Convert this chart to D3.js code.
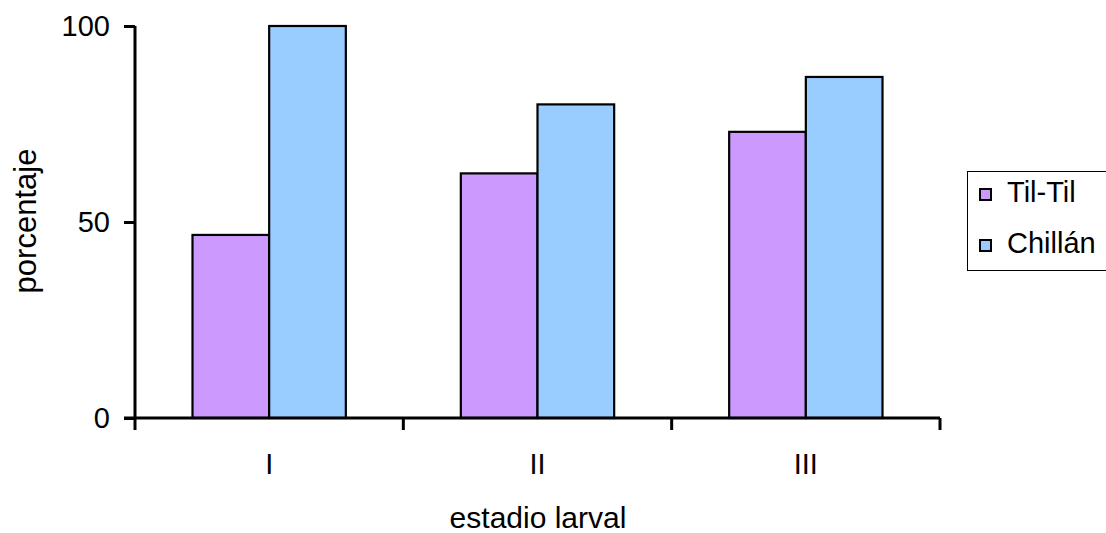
<!DOCTYPE html>
<html>
<head>
<meta charset="utf-8">
<script src="https://cdn.jsdelivr.net/npm/d3@7"></script>
<style>
  html, body { margin: 0; padding: 0; background: #fff; }
  svg { display: block; font-family: Arial, "Liberation Sans", sans-serif; }
</style>
</head>
<body>
<svg id="chart" width="1106" height="533"></svg>
<script>
// Larval stages and percentage per population
const stages = ["I", "II", "III"];
const seriesNames = ["Til-Til", "Chillán"];
const tilTil = [46.7, 62.4, 73.0];
const chillan = [100, 80.0, 87.0];
const yTicks = [0, 50, 100];
const colors = ["#CC99FF", "#99CCFF"];

const svg = d3.select("#chart");
const plotLeft = 135, plotRight = 940, plotTop = 26, plotBottom = 418;

const x = d3.scaleBand().domain(stages).range([plotLeft, plotRight]).paddingInner(0).paddingOuter(0);
// two bars per group with a 150% gap between groups
const barW = x.bandwidth() / 3.5;
const xs = d3.scaleBand().domain(seriesNames).range([barW * 0.75, barW * 2.75]);
const y = d3.scaleLinear().domain([0, 100]).range([plotBottom, plotTop]);

const rows = stages.map((s, i) => ({ stage: s, values: [tilTil[i], chillan[i]] }));

// bars
const g = svg.append("g");
g.selectAll("g.grp").data(rows).join("g")
  .attr("class", "grp")
  .attr("transform", d => `translate(${x(d.stage)},0)`)
  .selectAll("rect").data(d => d.values.map((v, k) => ({ name: seriesNames[k], v, k })))
  .join("rect")
  .attr("x", d => xs(d.name))
  .attr("width", xs.bandwidth())
  .attr("y", d => y(d.v))
  .attr("height", d => y(0) - y(d.v))
  .attr("fill", d => colors[d.k])
  .attr("stroke", "#000")
  .attr("stroke-width", 2.2);

// y axis
const yAxis = svg.append("g")
  .attr("transform", `translate(${plotLeft},0)`)
  .call(d3.axisLeft(y).tickValues(yTicks).tickSize(11).tickPadding(14));
yAxis.select(".domain").attr("d", `M0,${plotTop}V${plotBottom}`).attr("stroke-width", 3);
yAxis.selectAll(".tick line").attr("stroke-width", 3);
yAxis.selectAll("text").attr("font-size", 29).attr("fill", "#000");

// x axis with tick marks at the category boundaries
const xAxis = svg.append("g").attr("transform", `translate(0,${plotBottom})`);
xAxis.append("line").attr("x1", plotLeft - 11).attr("x2", plotRight)
  .attr("stroke", "#000").attr("stroke-width", 3);
const bounds = stages.map(s => x(s)).concat([x(stages[stages.length - 1]) + x.bandwidth()]);
xAxis.selectAll("line.tk").data(bounds).join("line")
  .attr("class", "tk")
  .attr("x1", d => d).attr("x2", d => d)
  .attr("y1", 0).attr("y2", 12)
  .attr("stroke", "#000").attr("stroke-width", 3);
xAxis.selectAll("text").data(stages).join("text")
  .attr("x", d => x(d) + x.bandwidth() / 2)
  .attr("y", 56)
  .attr("text-anchor", "middle")
  .attr("font-size", 29)
  .text(d => d);

// axis titles
svg.append("text")
  .attr("x", 538).attr("y", 528)
  .attr("text-anchor", "middle")
  .attr("font-size", 30)
  .text("estadio larval");
svg.append("text")
  .attr("transform", "translate(36,221) rotate(-90)")
  .attr("text-anchor", "middle")
  .attr("font-size", 31)
  .text("porcentaje");

// legend
const lg = svg.append("g");
lg.append("rect").attr("x", 967.5).attr("y", 171.5).attr("width", 150).attr("height", 99)
  .attr("fill", "#fff").attr("stroke", "#000").attr("stroke-width", 1);
seriesNames.forEach((n, i) => {
  const cy = 194 + i * 51;
  lg.append("rect").attr("x", 980).attr("y", cy - 5).attr("width", 11).attr("height", 11)
    .attr("fill", colors[i]).attr("stroke", "#000").attr("stroke-width", 2);
  lg.append("text").attr("x", 1007).attr("y", cy + 8)
    .attr("font-size", 29).text(n);
});
</script>
</body>
</html>
